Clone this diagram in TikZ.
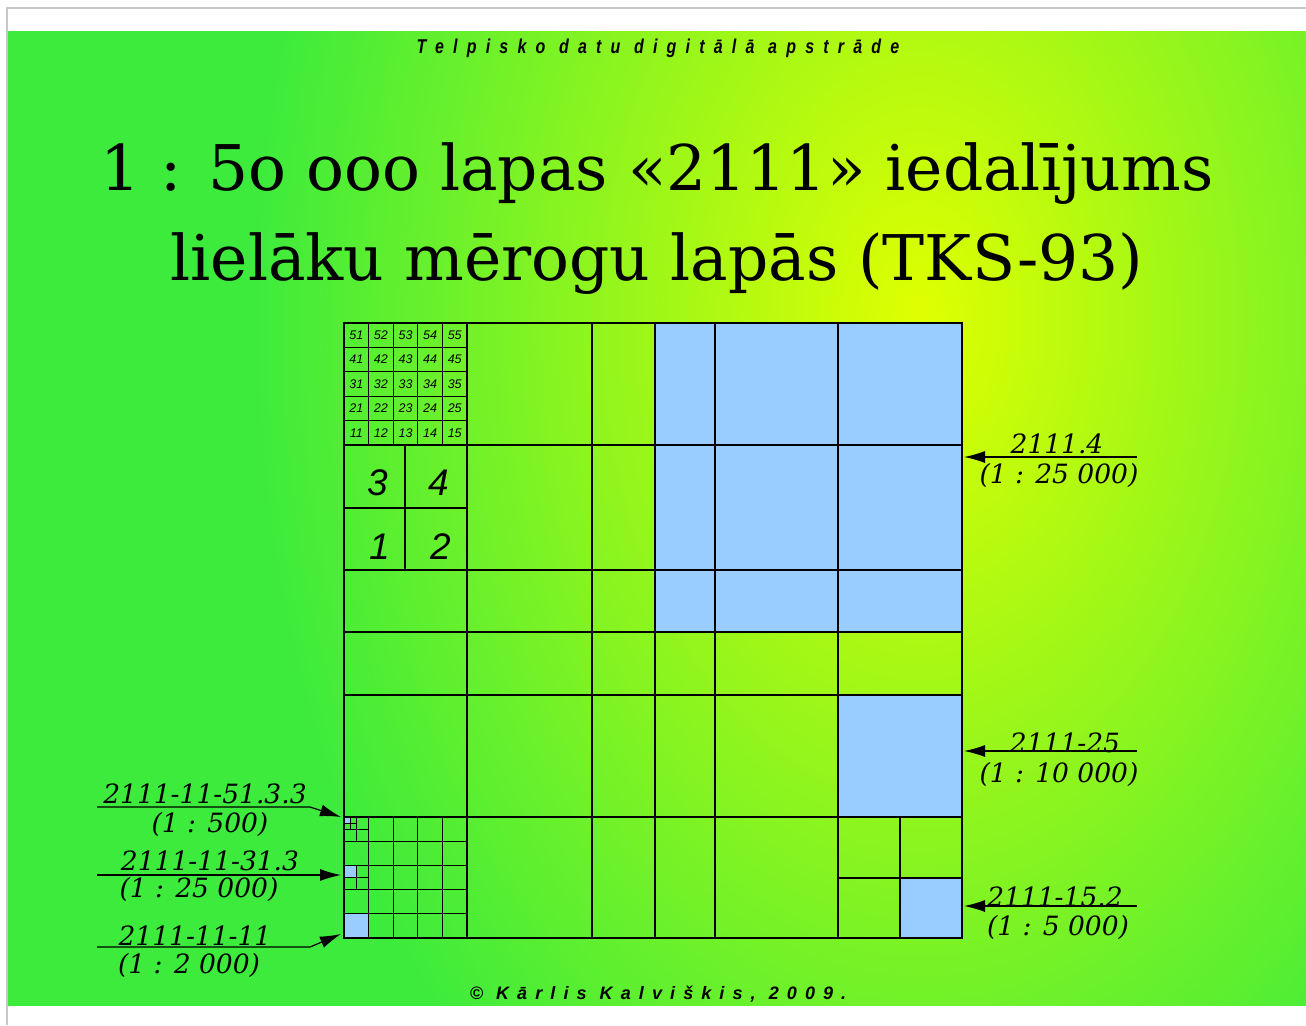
\documentclass[tikz,border=0pt]{standalone}
\usepackage{fontspec}
\setmainfont{DejaVu Serif}
\newfontfamily\arialfont{Liberation Sans}
\newfontfamily\spacedfont[LetterSpace=46,FakeStretch=0.8]{Liberation Sans}
\newfontfamily\footfont[LetterSpace=45]{Liberation Sans}
\usetikzlibrary{arrows.meta}
\definecolor{bggreen}{HTML}{3CEB3C}
\definecolor{glow}{HTML}{E0FF00}
\definecolor{sheetblue}{HTML}{99CCFF}
\definecolor{pageframe}{HTML}{C8C8C8}
\pgfdeclareradialshading{bgglow}{\pgfpointorigin}{color(0bp)=(glow); color(12.5bp)=(bggreen); color(50bp)=(bggreen)}

\begin{document}
\begin{tikzpicture}[x=1pt, y=-1pt, line width=1.3pt,
  lbl/.style={anchor=base, inner sep=0pt, font=\fontsize{26.5}{28}\selectfont\itshape},
  numsm/.style={inner sep=0pt, font=\arialfont\itshape\fontsize{12.5}{12.5}\selectfont},
  numbig/.style={inner sep=0pt, font=\arialfont\itshape\fontsize{37}{37}\selectfont},
  arr/.style={line width=1.2pt, -{Latex[length=21pt,width=12pt]}}]
\useasboundingbox (0,0) rectangle (1306,1025);
\fill[white] (0,0) rectangle (1306,1025);
\begin{scope}
\clip (8,32) rectangle (1306,1005);
\shade[shading=bgglow] (920-1344,320-2018) rectangle (920+1344,320+2018);
\end{scope}
\draw[pageframe, line width=2pt] (7,1025) -- (7,8) -- (1306,8);

\node[anchor=base, font=\spacedfont\bfseries\itshape\fontsize{20}{20}\selectfont] (head) at (658,54) {Telpisko datu digitālā apstrāde};
\node[anchor=base, font=\fontsize{63}{70}\selectfont] (title1) at (657,190) {1 : 5o ooo lapas «2111» iedalījums};
\node[anchor=base, font=\fontsize{63}{70}\selectfont] (title2) at (657,280) {lielāku mērogu lapās (TKS-93)};
\node[anchor=base, font=\footfont\bfseries\itshape\fontsize{18}{20}\selectfont] (foot) at (658,999) {© Kārlis Kalviškis, 2009.};

\fill[sheetblue] (655,323) rectangle (962,632);
\fill[sheetblue] (838,695) rectangle (962,817);
\fill[sheetblue] (900,878) rectangle (962,938);
\fill[sheetblue] (344,913.8) rectangle (368.6,938);
\fill[sheetblue] (344,865.4) rectangle (356.3,877.5);
\fill[sheetblue] (344,817) rectangle (350.15,823.05);

\draw (344,323) rectangle (962,938);
\foreach \x in {467,592,715,838} \draw (\x,323) -- (\x,938);
\foreach \y in {445,570,695,817} \draw (344,\y) -- (962,\y);
\draw (655,323) -- (655,938);
\draw (344,632) -- (962,632);
\draw (405,445) -- (405,570) (344,508) -- (467,508);
\draw (900,817) -- (900,938) (838,878) -- (962,878);
\foreach \i in {1,...,4} {
  \draw (344+24.6*\i,323) -- (344+24.6*\i,445);
  \draw (344,323+24.4*\i) -- (467,323+24.4*\i);
  \draw (344+24.6*\i,817) -- (344+24.6*\i,938);
  \draw (344,817+24.2*\i) -- (467,817+24.2*\i);
}
\draw[line width=1pt] (356.3,817) -- (356.3,841.2) (344,829.1) -- (368.6,829.1);
\draw[line width=1pt] (350.15,817) -- (350.15,829.1) (344,823.05) -- (356.3,823.05);
\draw[line width=1pt] (356.3,865.4) -- (356.3,889.6) (344,877.5) -- (368.6,877.5);

\foreach \r in {1,...,5}
  \foreach \c in {1,...,5}
    \node[numsm] (n\r\c) at (344+24.6*\c-12.3,445-24.4*\r+12.2) {\r\c};
\foreach \q/\x/\y in {3/378/483, 4/439/483, 1/380/547, 2/441/547}
  \node[numbig] (q\q) at (\x,\y) {\q};

\node[lbl] (ll1) at (205,803) {2111-11-51.3.3};
\node[lbl] (ls1) at (210,832) {(1 : 500)};
\node[lbl] (ll2) at (210,870) {2111-11-31.3};
\node[lbl] (ls2) at (199,897) {(1 : 25 000)};
\node[lbl] (ll3) at (195,945) {2111-11-11};
\node[lbl] (ls3) at (189,973) {(1 : 2 000)};
\node[lbl] (rl1) at (1057,453) {2111.4};
\node[lbl] (rs1) at (1059,483) {(1 : 25 000)};
\node[lbl] (rl2) at (1065,752) {2111-25};
\node[lbl] (rs2) at (1059,782) {(1 : 10 000)};
\node[lbl] (rl3) at (1055,906) {2111-15.2};
\node[lbl] (rs3) at (1058,935) {(1 : 5 000)};

\coordinate (a1s) at (97,807);  \coordinate (a1k) at (310,807); \coordinate (a1t) at (341,817);
\coordinate (a2s) at (97,875);  \coordinate (a2t) at (341,875);
\coordinate (a3s) at (97,947);  \coordinate (a3k) at (310,947); \coordinate (a3t) at (341,934);
\coordinate (b1s) at (1137,457); \coordinate (b1t) at (964,457);
\coordinate (b2s) at (1137,751); \coordinate (b2t) at (964,751);
\coordinate (b3s) at (1137,906); \coordinate (b3t) at (964,906);
\draw[arr] (a1s) -- (a1k) -- (a1t);
\draw[arr] (a2s) -- (a2t);
\draw[arr] (a3s) -- (a3k) -- (a3t);
\draw[arr] (b1s) -- (b1t);
\draw[arr] (b2s) -- (b2t);
\draw[arr] (b3s) -- (b3t);
\end{tikzpicture}
\end{document}
